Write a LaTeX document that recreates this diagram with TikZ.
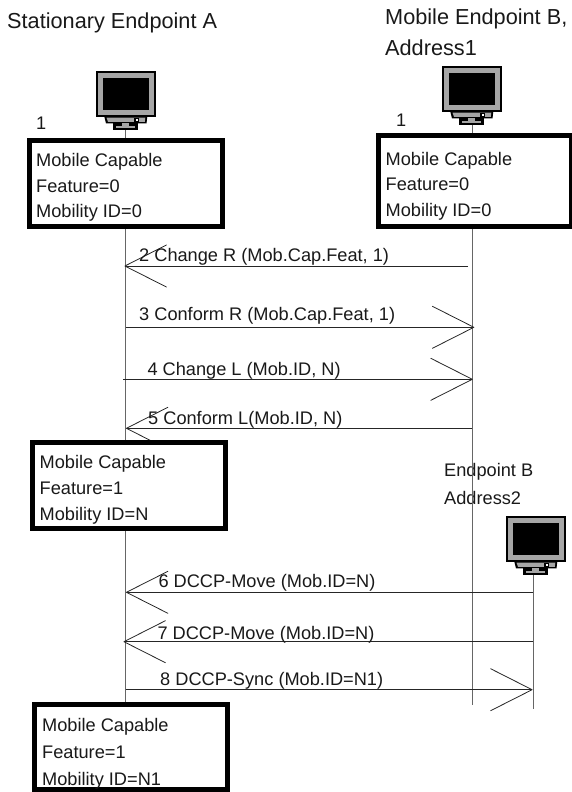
\documentclass[tikz,border=0pt]{standalone}
\usepackage{fontspec}
\setmainfont{Liberation Sans}
\usetikzlibrary{arrows.meta}
\tikzset{
  x=1pt,y=-1pt,
  txt/.style={font=\fontsize{18.2}{20}\selectfont,inner sep=0pt,anchor=base west,text=black!90},
  title/.style={font=\fontsize{21.7}{24}\selectfont,inner sep=0pt,anchor=base west,text=black!90},
  lbl/.style={font=\fontsize{18.2}{20}\selectfont,inner sep=0pt,anchor=base west,text=black!90},
  statebox/.style={draw=black,fill=white,line width=5pt,inner sep=0pt,outer sep=0pt,anchor=north west},
  life/.style={draw=black!60,line width=1pt},
  msg/.style={draw=black!85,line width=0.9pt},
  barb/.style={msg,-{Straight Barb[length=41.5pt,width=42pt,line width=0.8pt,round]}},
  pics/pc/.style={code={
    \fill[black] (-2,-1) rectangle (58,44.7);
    \fill[black!35] (0,1) rectangle (56,42.7);
    \fill[black] (5,6) rectangle (51,37.5);
    \fill[black] (6.3,44.7) -- (49.3,44.7) -- (48.5,51.3) -- (8,51.3) -- cycle;
    \fill[black!35] (8.5,45.7) -- (47.3,45.7) -- (46.8,49.8) -- (10,49.8) -- cycle;
    \fill[black] (36,45.7) rectangle (41,50);
    \fill[white] (37.5,47) rectangle (39.5,49);
    \fill[black] (15,51.3) rectangle (40,58);
    \fill[black!35] (24,51.3) rectangle (31,54);
    \fill[black!35] (18,54) rectangle (37,56);
  }}
}
\begin{document}
\begin{tikzpicture}
\useasboundingbox (0,0) rectangle (571,792);
% lifeline anchors
\coordinate (atop) at (125.7,125);
\coordinate (abot) at (125.7,706);
\coordinate (btop) at (472.3,120);
\coordinate (bbot) at (472.3,705);
\coordinate (ctop) at (533,570);
\coordinate (cbot) at (533,709);
% titles
\node[title] (ta) at (7,29) {Stationary Endpoint A};
\node[title] (tb) at (385,25) {Mobile Endpoint B,};
\node[title] (tb2) at (385,56) {Address1};
\node[txt] (oa) at (36,129) {1};
\node[txt] (ob) at (396,126) {1};
\node[txt] (tc) at (444,476.7) {Endpoint B};
\node[txt] (tc2) at (444,504) {Address2};
\draw[life] (atop) -- (abot);
\draw[life] (btop) -- (bbot);
\draw[life] (ctop) -- (cbot);
% message anchors
\coordinate (l2) at (124.5,266);   \coordinate (r2) at (468,266);
\coordinate (l3) at (125.7,327.3); \coordinate (r3) at (474.3,327.3);
\coordinate (l4) at (123.3,379.3); \coordinate (r4) at (472.7,379.3);
\coordinate (l5) at (126,428.3);   \coordinate (r5) at (472.3,428.3);
\coordinate (l6) at (126,592.3);   \coordinate (r6) at (533,592.3);
\coordinate (l7) at (123.5,641.7); \coordinate (r7) at (533,641.7);
\coordinate (l8) at (125.7,689.7); \coordinate (r8) at (532.5,689.7);
\draw[barb] (r2) -- (l2);
\draw[barb] (l3) -- (r3);
\draw[barb] (l4) -- (r4);
\draw[barb] (r5) -- (l5);
\draw[barb] (r6) -- (l6);
\draw[barb] (r7) -- (l7);
\draw[barb] (l8) -- (r8);
% monitors
\pic (pca) at (98,72) {pc};
\pic (pcb) at (444,67) {pc};
\pic (pcc) at (508,517) {pc};
% boxes
\node[statebox,minimum width=193pt,minimum height=86pt] (b1) at (29.5,140.5) {};
\node[statebox,minimum width=193pt,minimum height=90.5pt] (b2) at (378.5,135.5) {};
\node[statebox,minimum width=193pt,minimum height=85.5pt] (b3) at (32.5,442.5) {};
\node[statebox,minimum width=193.5pt,minimum height=85pt] (b4) at (34,704.5) {};
\node[txt] (b1a) at (36,166) {Mobile Capable};
\node[txt] (b1b) at (36,192) {Feature=0};
\node[txt] (b1c) at (36,217.5) {Mobility ID=0};
\node[txt] (b2a) at (385.5,165) {Mobile Capable};
\node[txt] (b2b) at (385.5,190.7) {Feature=0};
\node[txt] (b2c) at (385.5,216.7) {Mobility ID=0};
\node[txt] (b3a) at (39.5,468) {Mobile Capable};
\node[txt] (b3b) at (39.5,494) {Feature=1};
\node[txt] (b3c) at (39.5,520) {Mobility ID=N};
\node[txt] (b4a) at (42,731.7) {Mobile Capable};
\node[txt] (b4b) at (42,758) {Feature=1};
\node[txt] (b4c) at (42,785) {Mobility ID=N1};
% message labels
\node[lbl] (m2) at (139,261.7) {2 Change R (Mob.Cap.Feat, 1)};
\node[lbl] (m3) at (139,320) {3 Conform R (Mob.Cap.Feat, 1)};
\node[lbl] (m4) at (147.3,375) {4 Change L (Mob.ID, N)};
\node[lbl] (m5) at (148,424) {5 Conform L(Mob.ID, N)};
\node[lbl] (m6) at (158.3,587.3) {6 DCCP-Move (Mob.ID=N)};
\node[lbl] (m7) at (157.3,639) {7 DCCP-Move (Mob.ID=N)};
\node[lbl] (m8) at (160,685) {8 DCCP-Sync (Mob.ID=N1)};
\end{tikzpicture}
\end{document}
